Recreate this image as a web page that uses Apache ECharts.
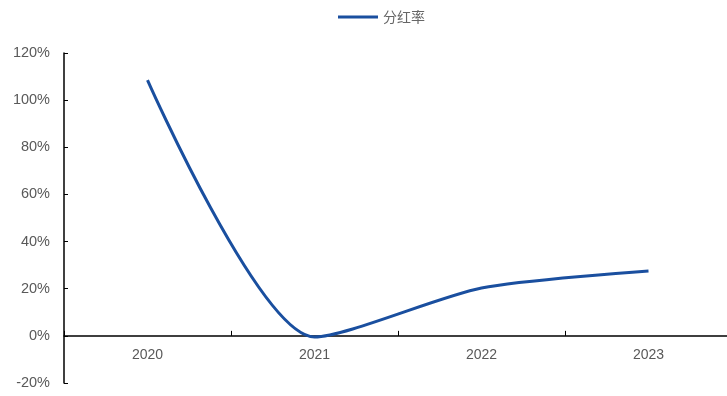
<!DOCTYPE html>
<html>
<head>
<meta charset="utf-8">
<script src="https://cdn.jsdelivr.net/npm/echarts@6/dist/echarts.min.js"></script>
<style>
  html, body { margin: 0; padding: 0; background: #fff; }
  #chart { width: 727px; height: 396px; }
</style>
</head>
<body>
<div id="chart"></div>
<script>
  // 数据
  var years = ['2020', '2021', '2022', '2023']
  var payoutRatio = [108.5, -0.5, 20.3, 27.5] // 分红率 %
  var yTicks = [-20, 0, 20, 40, 60, 80, 100, 120]

  var myChart = echarts.init(document.getElementById('chart'))
  var option = {
    animation: false,
    legend: {
      top: 5,
      left: 333,
      itemWidth: 40,
      itemHeight: 3,
      itemGap: 6,
      icon: 'rect',
      textStyle: {
        color: '#666666',
        fontSize: 14,
        fontFamily: 'Noto Sans CJK SC',
        padding: [0, 0, 0, 0]
      },
      data: ['分红率']
    },
    grid: {
      left: 64,
      top: 53,
      width: 668,
      height: 330,
      outerBoundsMode: 'none'
    },
    xAxis: {
      type: 'category',
      data: years,
      axisLine: { onZero: true, lineStyle: { color: '#000', width: 1.5 } },
      axisTick: { show: true, inside: true, length: 5, lineStyle: { color: '#000' } },
      axisLabel: {
        color: '#595959',
        fontSize: 14,
        fontFamily: 'Liberation Sans',
        margin: -35 // v6 里标签贴在网格底部，往上挪到0线下方
      },
      splitLine: { show: false }
    },
    yAxis: {
      type: 'value',
      min: yTicks[0],
      max: yTicks[yTicks.length - 1],
      interval: 20,
      axisLine: { show: true, lineStyle: { color: '#000', width: 1.5 } },
      axisTick: { show: true, inside: true, length: 4, lineStyle: { color: '#000' } },
      axisLabel: {
        color: '#595959',
        fontSize: 14.5,
        fontFamily: 'Liberation Sans',
        margin: 14,
        formatter: '{value}%'
      },
      splitLine: { show: false }
    },
    series: [{
      name: '分红率',
      type: 'line',
      smooth: 0.25,
      symbol: 'none',
      lineStyle: { color: '#1a4f9f', width: 3 },
      itemStyle: { color: '#1a4f9f' },
      data: payoutRatio
    }]
  }
  myChart.setOption(option)
</script>
</body>
</html>
